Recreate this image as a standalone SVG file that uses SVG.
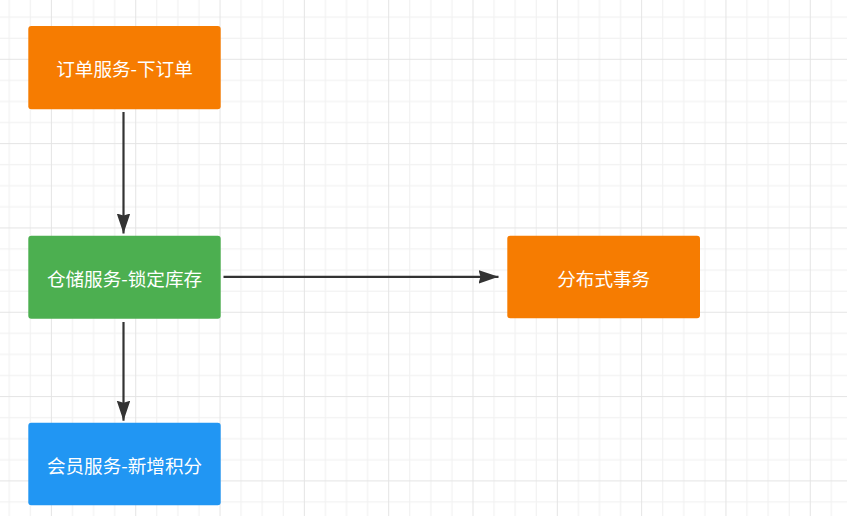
<svg xmlns="http://www.w3.org/2000/svg" width="847" height="516" viewBox="0 0 847 516">
  <style>
    .box text { font-family: "Noto Sans CJK SC", "Microsoft YaHei", sans-serif; font-size: 18.6px; fill: #ffffff; text-anchor: middle; dominant-baseline: central; }
    .orange { fill: #F67C01; }
    .green { fill: #4CAF50; }
    .blue { fill: #2196F3; }
    .edge { fill: none; stroke: #333333; stroke-width: 2.2; }
    .minor { fill: #f0f0f0; }
    .major { fill: #e4e4e4; }
  </style>
  <defs>
    <pattern id="grid" patternUnits="userSpaceOnUse" x="50.9" y="58.8" width="84.32" height="84.32">
      <rect class="minor" x="21.08" y="0" width="1" height="84.32"/>
      <rect class="minor" x="42.16" y="0" width="1" height="84.32"/>
      <rect class="minor" x="63.24" y="0" width="1" height="84.32"/>
      <rect class="minor" x="0" y="21.08" width="84.32" height="1"/>
      <rect class="minor" x="0" y="42.16" width="84.32" height="1"/>
      <rect class="minor" x="0" y="63.24" width="84.32" height="1"/>
      <rect class="major" x="0" y="0" width="1" height="84.32"/>
      <rect class="major" x="0" y="0" width="84.32" height="1"/>
    </pattern>
    <marker id="arrow" markerUnits="userSpaceOnUse" markerWidth="22" markerHeight="14" refX="20" refY="6.75" orient="auto">
      <path d="M0,0 L20,6.75 L0,13.5 L2,6.75 Z" fill="#333333"/>
    </marker>
  </defs>
  <rect x="0" y="0" width="847" height="516" fill="#ffffff"/>
  <rect x="0" y="0" width="847" height="516" fill="url(#grid)"/>

  <g id="connectors">
    <path class="edge" d="M123.5,112 L123.5,233.5" marker-end="url(#arrow)"/>
    <path class="edge" d="M123.5,322 L123.5,420.7" marker-end="url(#arrow)"/>
    <path class="edge" d="M223.5,276.8 L498.5,276.8" marker-end="url(#arrow)"/>
  </g>

  <g id="node-order" class="box">
    <rect class="orange" x="28.3" y="26" width="192.4" height="83.3" rx="3"/>
    <text x="124.5" y="67.7">订单服务-下订单</text>
  </g>
  <g id="node-warehouse" class="box">
    <rect class="green" x="28.3" y="235.7" width="192.4" height="83" rx="3"/>
    <text x="124.5" y="277.2">仓储服务-锁定库存</text>
  </g>
  <g id="node-member" class="box">
    <rect class="blue" x="28.3" y="422.7" width="192.4" height="82.6" rx="3"/>
    <text x="124.5" y="464">会员服务-新增积分</text>
  </g>
  <g id="node-dtx" class="box">
    <rect class="orange" x="507.3" y="235.7" width="192.7" height="82.6" rx="3"/>
    <text x="603.7" y="277">分布式事务</text>
  </g>
</svg>
